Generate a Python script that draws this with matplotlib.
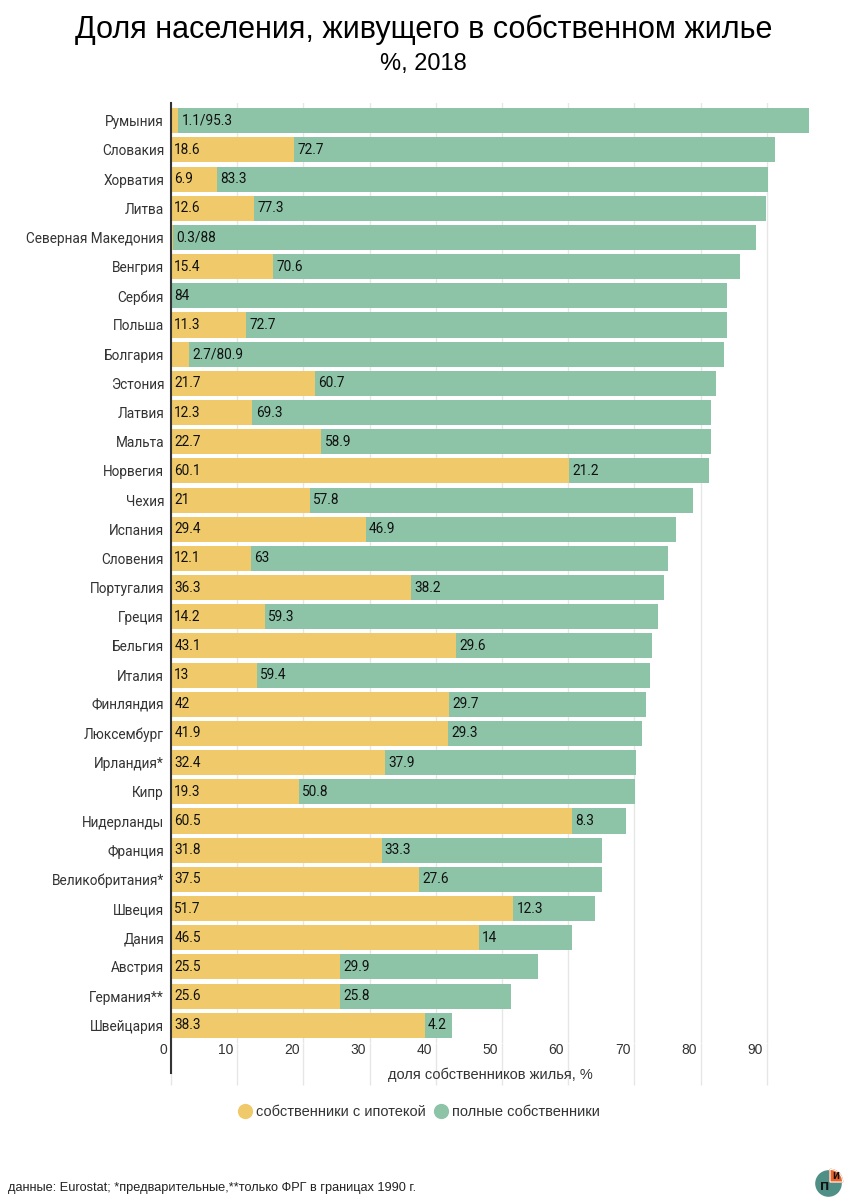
import matplotlib.pyplot as plt
import matplotlib.transforms as mtransforms
from matplotlib.lines import Line2D
from matplotlib.patches import Circle, Wedge

# Данные
страны = ["Румыния", "Словакия", "Хорватия", "Литва", "Северная Македония", "Венгрия",
          "Сербия", "Польша", "Болгария", "Эстония", "Латвия", "Мальта", "Норвегия",
          "Чехия", "Испания", "Словения", "Португалия", "Греция", "Бельгия", "Италия",
          "Финляндия", "Люксембург", "Ирландия*", "Кипр", "Нидерланды", "Франция",
          "Великобритания*", "Швеция", "Дания", "Австрия", "Германия**", "Швейцария"]
ипотека = [1.1, 18.6, 6.9, 12.6, 0.3, 15.4, 0, 11.3, 2.7, 21.7, 12.3, 22.7, 60.1,
           21, 29.4, 12.1, 36.3, 14.2, 43.1, 13, 42, 41.9, 32.4, 19.3, 60.5, 31.8,
           37.5, 51.7, 46.5, 25.5, 25.6, 38.3]
полные = [95.3, 72.7, 83.3, 77.3, 88, 70.6, 84, 72.7, 80.9, 60.7, 69.3, 58.9, 21.2,
          57.8, 46.9, 63, 38.2, 59.3, 29.6, 59.4, 29.7, 29.3, 37.9, 50.8, 8.3, 33.3,
          27.6, 12.3, 14, 29.9, 25.8, 4.2]
деления = [0, 10, 20, 30, 40, 50, 60, 70, 80, 90]

цвет_ипотека = "#f0ca6a"
цвет_полные = "#8dc3a7"
цвет_сетки = "#e6e6e6"
шрифт_узкий = ["Liberation Sans Narrow", "Liberation Sans", "DejaVu Sans"]

fig = plt.figure(figsize=(8.47, 12), dpi=100)
ax = fig.add_axes([171 / 847, 0.131, 662 / 847, 0.783])

y = list(range(len(страны)))
ax.barh(y, ипотека, height=0.86, color=цвет_ипотека, zorder=2)
ax.barh(y, полные, left=ипотека, height=0.86, color=цвет_полные, zorder=2)

def fmt(v):
    return f"{v:g}"

def подпись(x, i, s):
    ax.text(x + 0.5, i, s, va="center", ha="left", fontsize=9.8,
            family="Roboto", color="#111111", zorder=3)

for i, (m, f) in enumerate(zip(ипотека, полные)):
    if m == 0:
        подпись(m, i, fmt(f))
    elif m < 4:
        подпись(m, i, f"{fmt(m)}/{fmt(f)}")
    else:
        подпись(0, i, fmt(m))
        подпись(m, i, fmt(f))

ax.set_ylim(len(страны) - 0.4, -0.6)
ax.set_xlim(0, 100)
ax.set_yticks(y)
ax.set_yticklabels(страны, family="Roboto", fontsize=9.8, color="#333333")
ax.tick_params(axis="y", length=0, pad=5)

# сетка и подписи оси X
ax.set_xticks(деления)
ax.grid(axis="x", color=цвет_сетки, linewidth=1, zorder=0)
ax.tick_params(axis="x", length=30, color=цвет_сетки, width=1, pad=-30,
               labelsize=10, labelcolor="#333333")
сдвиг = mtransforms.ScaledTranslation(-4 / 100, 0, fig.dpi_scale_trans)
for lab in ax.get_xticklabels():
    lab.set_horizontalalignment("right")
    lab.set_family(шрифт_узкий)
    lab.set_transform(lab.get_transform() + сдвиг)

for s in ["top", "right", "bottom", "left"]:
    ax.spines[s].set_visible(False)
ax.axvline(0, ymin=-0.032, ymax=1, color="#333333", linewidth=1.5, zorder=4, clip_on=False)

fig.text(490 / 847, 1 - 1075 / 1200, "доля собственников жилья, %", ha="center", va="center",
         fontsize=10.5, family=шрифт_узкий, color="#333333")

# заголовок
fig.text(0.5, 1 - 30 / 1200, "Доля населения, живущего в собственном жилье", ha="center",
         va="center", fontsize=22, family=["Liberation Sans", "DejaVu Sans"], color="#000000")
fig.text(0.5, 1 - 64 / 1200, "%, 2018", ha="center", va="center", fontsize=17,
         family=шрифт_узкий, color="#000000")

# легенда
handles = [
    Line2D([0], [0], marker="o", color="w", markerfacecolor=цвет_ипотека, markersize=12,
           label="собственники с ипотекой"),
    Line2D([0], [0], marker="o", color="w", markerfacecolor=цвет_полные, markersize=12,
           label="полные собственники"),
]
fig.legend(handles=handles, loc="center", bbox_to_anchor=(418 / 847, 1 - 1112 / 1200), ncol=2,
           frameon=False, handletextpad=0.2, columnspacing=0.4, handlelength=1.2,
           prop={"family": шрифт_узкий, "size": 10.5}, labelcolor="#333333")

# подпись источника
fig.text(8 / 847, 1 - 1188 / 1200, "данные: Eurostat; *предварительные,**только ФРГ в границах 1990 г.",
         ha="left", va="center", fontsize=9.2, family=шрифт_узкий, color="#222222")

# логотип
lax = fig.add_axes([815 / 847, 1 - 1197 / 1200, 30 / 847, 30 / 1200])
lax.set_xlim(0, 1)
lax.set_ylim(0, 1)
lax.set_aspect("equal")
lax.axis("off")
lax.add_patch(Circle((0.45, 0.45), 0.42, color="#4f8f86"))
lax.add_patch(Wedge((0.5, 0.5), 0.42, 0, 90, color="#e8642c"))
lax.add_patch(Wedge((0.5, 0.5), 0.42, 0, 90, fill=False, edgecolor="white", linewidth=0.8))
lax.text(0.33, 0.33, "П", ha="center", va="center", fontsize=8, color="#111111", weight="bold")
lax.text(0.68, 0.68, "И", ha="center", va="center", fontsize=6, color="#111111", weight="bold")

fig.savefig("out.png", dpi=100)
